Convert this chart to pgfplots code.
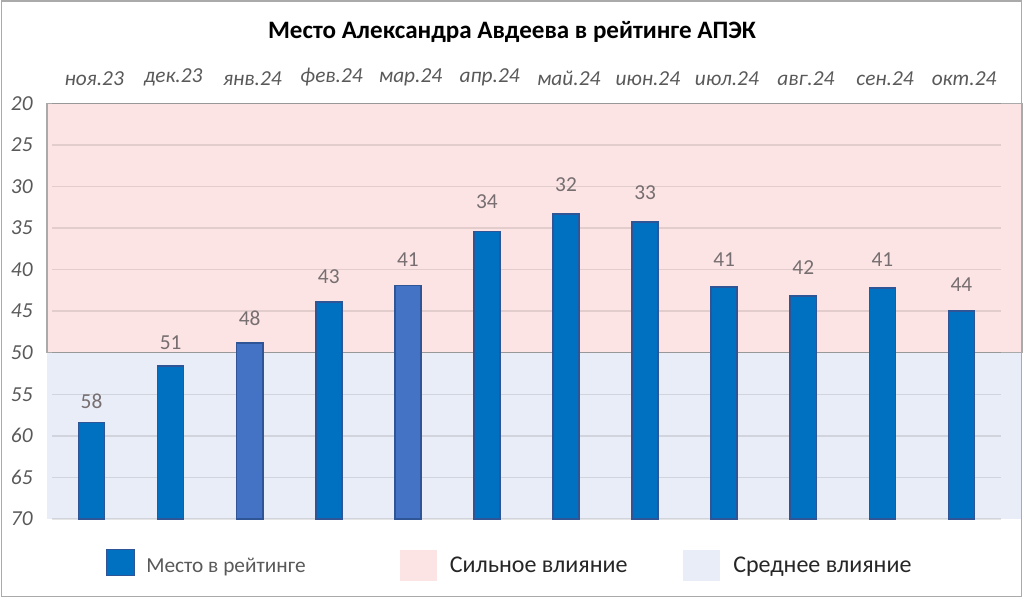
\documentclass[border=0pt]{standalone}
\usepackage{pgfplots}
\pgfplotsset{compat=1.18}
\usepackage{pgfplotstable}
\usepackage{fontspec}
\setmainfont{Carlito}
\definecolor{barblue}{RGB}{0,112,192}
\definecolor{barlight}{RGB}{68,114,196}
\definecolor{baredge}{RGB}{47,85,151}
\definecolor{pinkbg}{RGB}{252,228,228}
\definecolor{bluebg}{RGB}{233,237,247}
\definecolor{txtgray}{RGB}{89,89,89}
\definecolor{labgray}{RGB}{118,110,112}
\definecolor{framegray}{RGB}{170,170,170}

% x = month index, v = bar top as drawn, lab = place in the rating (label)
\pgfplotstableread{
x v lab
0 58.4 58
1 51.6 51
3 43.9 43
5 35.4 34
6 33.3 32
7 34.3 33
8 42.1 41
9 43.2 42
10 42.2 41
11 45.0 44
}\mainbars
\pgfplotstableread{
x v lab
2 48.8 48
4 41.9 41
}\lightbars
\pgfplotstableread{
x lab
0 58
1 51
2 48
3 43
4 41
5 34
6 32
7 33
8 41
9 42
10 41
11 44
}\labels

\begin{document}
\begin{tikzpicture}
\begin{scope}[x=0.75pt,y=0.75pt]
\useasboundingbox (0,0) rectangle (1024,598);
\end{scope}
\begin{axis}[
  at={(39pt,59.25pt)}, anchor=south west,
  scale only axis, width=711.75pt, height=311.8pt,
  set layers, clip=false,
  xmin=-0.5, xmax=11.5, ymin=0, ymax=50,
  xtick={0,...,11},
  xticklabels={ноя.23,дек.23,янв.24,фев.24,мар.24,апр.24,май.24,июн.24,июл.24,авг.24,сен.24,окт.24},
  xticklabel pos=upper,
  xticklabel style={font=\fontsize{16}{18}\selectfont\itshape, text=txtgray, yshift=9.5pt, xshift=2pt},
  ytick={0,5,...,50},
  yticklabels={70,65,60,55,50,45,40,35,30,25,20},
  yticklabel style={font=\fontsize{16}{18}\selectfont\itshape, text=txtgray, xshift=-11pt},
  major tick length=0pt,
  axis line style={draw=none},
  ymajorgrids, major grid style={black, opacity=0.1, line width=1.1pt},
]
\addplot[on layer=axis background, fill=pinkbg, draw=framegray, line width=0.9pt, forget plot]
  coordinates {(-0.563,50) (11.765,50) (11.765,20) (-0.563,20) (-0.563,50)};
\addplot[on layer=axis background, fill=bluebg, draw=none, forget plot]
  coordinates {(-0.563,20) (11.765,20) (11.765,0) (-0.563,0) (-0.563,20)};
\addplot[on layer=axis background, draw=framegray, line width=0.9pt, forget plot]
  coordinates {(-0.563,20) (11.765,20)};
\addplot[ybar, bar width=19.6pt, bar shift=0pt, fill=barblue, draw=baredge, line width=1.2pt]
  table[x=x, y expr=70-\thisrow{v}]{\mainbars};
\addplot[ybar, bar width=19.6pt, bar shift=0pt, fill=barlight, draw=baredge, line width=1.2pt]
  table[x=x, y expr=70-\thisrow{v}]{\lightbars};
\addplot[draw=none, mark=none, point meta=explicit symbolic, nodes near coords,
  nodes near coords style={font=\fontsize{16}{18}\selectfont, text=labgray, anchor=center, inner sep=0pt, yshift=13.7pt}]
  table[x=x, y expr=70-\thisrow{lab}, meta=lab]{\labels};
\end{axis}
\begin{scope}[x=0.75pt,y=0.75pt]
% title
\node[font=\fontsize{18.8}{21}\selectfont\bfseries] at (512,566) {Место Александра Авдеева в рейтинге АПЭК};
% legend
\draw[fill=barblue, draw=baredge, line width=1.2pt] (106.5,22.5) rectangle (134.5,48.5);
\node[anchor=base west, font=\fontsize{16}{18}\selectfont, text=txtgray, inner sep=0pt] at (146,25) {Место в рейтинге};
\fill[pinkbg] (400,17.2) rectangle (437,48);
\node[anchor=base west, font=\fontsize{18}{20}\selectfont, text=black!85, inner sep=0pt] at (449.5,25.7) {Сильное влияние};
\fill[bluebg] (683,17.2) rectangle (720,48);
\node[anchor=base west, font=\fontsize{18}{20}\selectfont, text=black!85, inner sep=0pt] at (733,25.7) {Среднее влияние};
% frame
\draw[framegray, line width=1.1pt] (1.5,1.5) rectangle (1021.5,597);
\end{scope}
\end{tikzpicture}
\end{document}
